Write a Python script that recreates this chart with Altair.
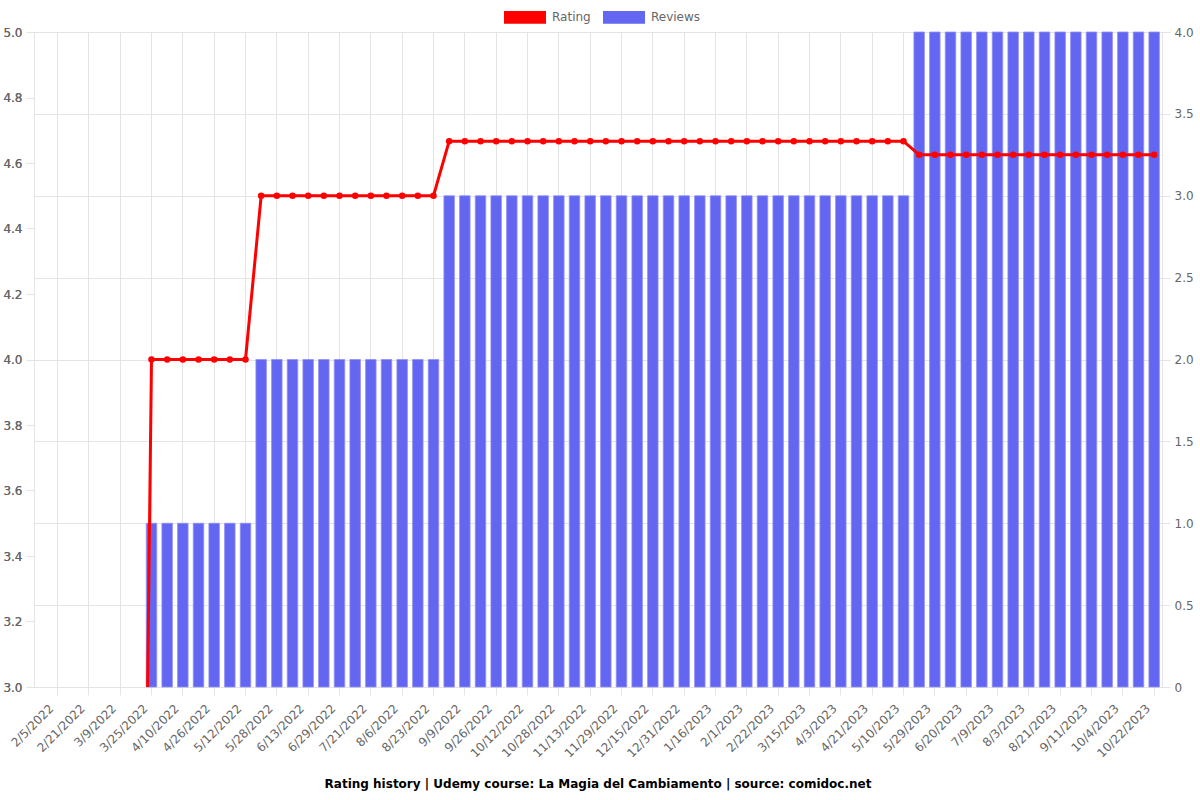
import altair as alt
import pandas as pd

# Category dates (odd positions are the labels shown on the axis; even positions are estimated, hidden)
dates = [
    "1/28/2022", "2/5/2022", "2/13/2022", "2/21/2022", "3/1/2022", "3/9/2022", "3/17/2022", "3/25/2022",
    "4/2/2022", "4/10/2022", "4/18/2022", "4/26/2022", "5/4/2022", "5/12/2022", "5/20/2022", "5/28/2022",
    "6/5/2022", "6/13/2022", "6/21/2022", "6/29/2022", "7/10/2022", "7/21/2022", "7/29/2022", "8/6/2022",
    "8/14/2022", "8/23/2022", "9/1/2022", "9/9/2022", "9/17/2022", "9/26/2022", "10/4/2022", "10/12/2022",
    "10/20/2022", "10/28/2022", "11/5/2022", "11/13/2022", "11/21/2022", "11/29/2022", "12/7/2022", "12/15/2022",
    "12/23/2022", "12/31/2022", "1/8/2023", "1/16/2023", "1/24/2023", "2/1/2023", "2/11/2023", "2/22/2023",
    "3/5/2023", "3/15/2023", "3/24/2023", "4/3/2023", "4/12/2023", "4/21/2023", "4/30/2023", "5/10/2023",
    "5/19/2023", "5/29/2023", "6/9/2023", "6/20/2023", "6/29/2023", "7/9/2023", "7/21/2023", "8/3/2023",
    "8/12/2023", "8/21/2023", "9/1/2023", "9/11/2023", "9/22/2023", "10/4/2023", "10/13/2023", "10/22/2023",
]

tick_labels = [
    "2/5/2022", "2/21/2022", "3/9/2022", "3/25/2022", "4/10/2022", "4/26/2022", "5/12/2022", "5/28/2022",
    "6/13/2022", "6/29/2022", "7/21/2022", "8/6/2022", "8/23/2022", "9/9/2022", "9/26/2022", "10/12/2022",
    "10/28/2022", "11/13/2022", "11/29/2022", "12/15/2022", "12/31/2022", "1/16/2023", "2/1/2023", "2/22/2023",
    "3/15/2023", "4/3/2023", "4/21/2023", "5/10/2023", "5/29/2023", "6/20/2023", "7/9/2023", "8/3/2023",
    "8/21/2023", "9/11/2023", "10/4/2023", "10/22/2023",
]

rating = [
    0, 0, 0, 0, 0, 0, 0,
    4.0, 4.0, 4.0, 4.0, 4.0, 4.0, 4.0,
    4.5, 4.5, 4.5, 4.5, 4.5, 4.5, 4.5, 4.5, 4.5, 4.5, 4.5, 4.5,
    4.6667, 4.6667, 4.6667, 4.6667, 4.6667, 4.6667, 4.6667, 4.6667, 4.6667, 4.6667,
    4.6667, 4.6667, 4.6667, 4.6667, 4.6667, 4.6667, 4.6667, 4.6667, 4.6667, 4.6667,
    4.6667, 4.6667, 4.6667, 4.6667, 4.6667, 4.6667, 4.6667, 4.6667, 4.6667, 4.6667,
    4.625, 4.625, 4.625, 4.625, 4.625, 4.625, 4.625, 4.625,
    4.625, 4.625, 4.625, 4.625, 4.625, 4.625, 4.625, 4.625,
]

reviews = [
    0, 0, 0, 0, 0, 0, 0,
    1, 1, 1, 1, 1, 1, 1,
    2, 2, 2, 2, 2, 2, 2, 2, 2, 2, 2, 2,
    3, 3, 3, 3, 3, 3, 3, 3, 3, 3,
    3, 3, 3, 3, 3, 3, 3, 3, 3, 3,
    3, 3, 3, 3, 3, 3, 3, 3, 3, 3,
    4, 4, 4, 4, 4, 4, 4, 4,
    4, 4, 4, 4, 4, 4, 4, 4,
]

series_names = ["Rating", "Reviews"]
series_colors = ["#ff0000", "#6366f1"]

rating_ticks = [3.0, 3.2, 3.4, 3.6, 3.8, 4.0, 4.2, 4.4, 4.6, 4.8, 5.0]
review_ticks = [0, 0.5, 1.0, 1.5, 2.0, 2.5, 3.0, 3.5, 4.0]

df = pd.DataFrame({"date": dates, "rating": rating, "reviews": reviews})

GRID = "#e4e4e4"
LABEL = "#666666"
FONT = "DejaVu Sans"

x_enc = alt.X(
    "date:O",
    sort=dates,
    scale=alt.Scale(domain=dates, paddingInner=0, paddingOuter=0),
    axis=alt.Axis(
        values=tick_labels,
        title=None,
        labelAngle=-45,
        labelAlign="right",
        labelBaseline="middle",
        labelColor=LABEL,
        labelFontSize=12,
        labelFont=FONT,
        labelPadding=11,
        labelOffset=-6,
        grid=True,
        gridColor=GRID,
        tickColor=GRID,
        tickSize=8,
        domainColor=GRID,
        labelOverlap=False,
        tickBand="center",
    ),
)

color_scale = alt.Scale(domain=series_names, range=series_colors)
legend = alt.Legend(
    title=None,
    orient="none",
    legendX=470,
    legendY=-36,
    direction="horizontal",
    symbolType="M-1,-0.3L1,-0.3L1,0.3L-1,0.3Z",
    symbolSize=1764,
    symbolStrokeWidth=0,
    symbolOpacity=1,
    labelFontSize=12,
    labelFont=FONT,
    labelColor=LABEL,
    columnPadding=12,
    symbolOffset=0,
    labelOffset=6,
)

color_enc = alt.Color("series:N", scale=color_scale, legend=legend)

bars = alt.Chart(df).transform_filter("datum.reviews > 0").transform_calculate(
    series="'Reviews'"
).mark_bar(size=10.5, stroke="#8f92f5", strokeWidth=0.8).encode(
    x=x_enc,
    y=alt.Y(
        "reviews:Q",
        scale=alt.Scale(domain=[0, 4], nice=False),
        axis=alt.Axis(
            orient="right",
            title=None,
            values=review_ticks,
            labelExpr="datum.value == 0 ? '0' : format(datum.value, '.1f')",
            labelColor=LABEL,
            labelFontSize=12,
            labelFont=FONT,
            gridColor=GRID,
            tickColor=GRID,
            tickSize=8,
            domainColor=GRID,
            labelPadding=4,
        ),
    ),
    color=color_enc,
)

y_rating = alt.Y(
    "rating:Q",
    scale=alt.Scale(domain=[3, 5], nice=False, zero=False),
    axis=alt.Axis(
        orient="left",
        title=None,
        values=rating_ticks,
        format=".1f",
        labelColor=LABEL,
        labelFontSize=12,
        labelFont=FONT,
        gridColor=GRID,
        tickColor=GRID,
        tickSize=8,
        domainColor=GRID,
        labelPadding=4,
    ),
)

line = alt.Chart(df).mark_line(strokeWidth=3, clip=True, color="#ff0000").encode(
    x=x_enc,
    y=y_rating,
)

points = alt.Chart(df).transform_calculate(series="'Rating'").mark_circle(
    size=42, opacity=1, clip=True
).encode(
    x=x_enc,
    y=y_rating,
    color=color_enc,
)

chart = (
    alt.layer(bars, line, points)
    .resolve_scale(y="independent")
    .properties(
        width=1128,
        height=655,
        autosize="none",
        padding={"left": 34, "top": 32, "right": 38, "bottom": 113},
        title=alt.TitleParams(
            "Rating history | Udemy course: La Magia del Cambiamento | source: comidoc.net",
            orient="bottom",
            anchor="middle",
            fontSize=12,
            font=FONT,
            fontWeight="bold",
            color="#000000",
            offset=20,
        ),
    )
    .configure_view(stroke=None)
    .configure(background="white")
)

chart.save("out.html", embed_options={"renderer": "svg", "actions": False})
